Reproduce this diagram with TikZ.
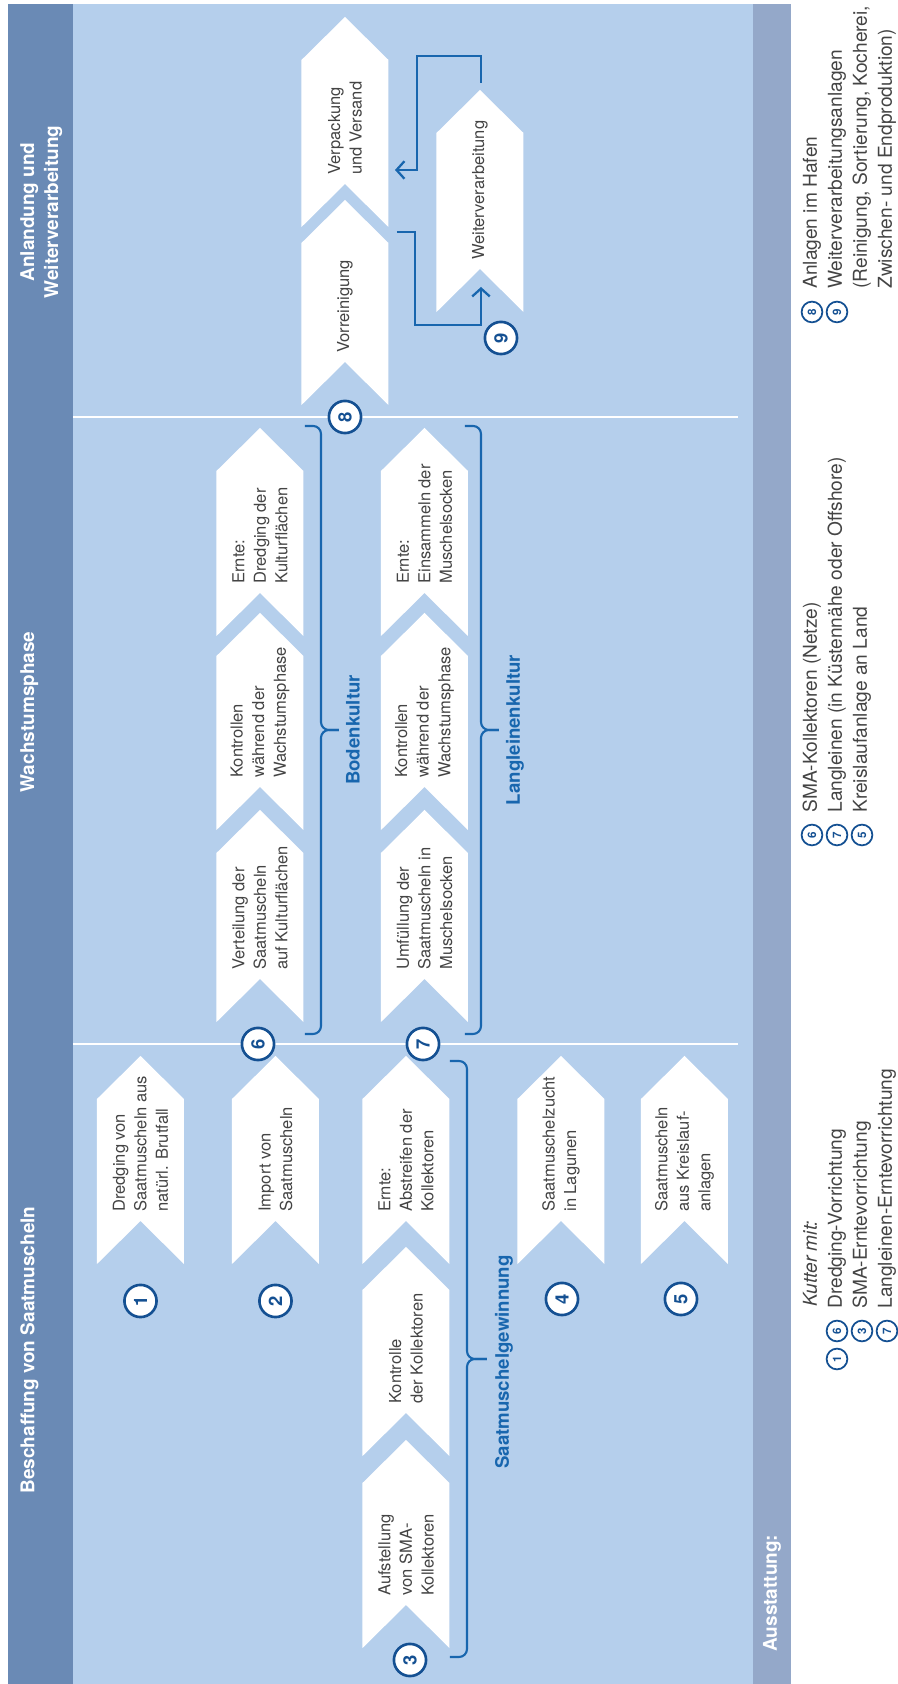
\documentclass[tikz,border=0pt]{standalone}
\usepackage{fontspec}
\setmainfont{TeX Gyre Heros}
\usetikzlibrary{arrows.meta}

\definecolor{panel}{RGB}{181,207,236}
\definecolor{headbar}{RGB}{106,138,181}
\definecolor{footbar}{RGB}{148,168,201}
\definecolor{linkblue}{RGB}{24,102,174}
\definecolor{ringblue}{RGB}{20,80,146}
\definecolor{txtgray}{RGB}{68,68,68}

\tikzset{
	boxfill/.style={fill=white},
	boxtext/.style={font=\fontsize{9.4}{12.3}\selectfont, text=txtgray, align=left, inner sep=0pt},
	headtext/.style={font=\fontsize{10.8}{13.6}\selectfont\bfseries, text=white, align=center, inner sep=0pt},
	num/.style={circle, draw=ringblue, line width=1.5pt, fill=white, minimum size=18.3pt, inner sep=0pt, font=\fontsize{10.5}{10.5}\selectfont\bfseries, text=ringblue},
	smallnum/.style={circle, draw=ringblue, line width=1pt, fill=white, minimum size=11.8pt, inner sep=0pt, font=\fontsize{6.6}{6.6}\selectfont\bfseries, text=ringblue},
	grouplabel/.style={font=\fontsize{10.6}{12}\selectfont\bfseries, text=linkblue, inner sep=0pt},
	legtext/.style={font=\fontsize{10.9}{14.2}\selectfont, text=txtgray, inner sep=0pt, anchor=base west},
	flow/.style={draw=linkblue, line width=1.3pt, -{Straight Barb[length=4.5pt, width=10pt]}},
	brace/.style={draw=linkblue, line width=1.2pt, rounded corners=4.5pt},
	divider/.style={draw=white, line width=1.5pt}
}

\newcommand{\schritt}[5]{%
	\fill[boxfill] (#2,#4-43.5) -- (#2+43,#4) -- (#2,#4+43.5) -- (#3-43,#4+43.5)
		-- (#3,#4) -- (#3-43,#4-43.5) -- cycle;
	\node[boxtext, anchor=west] (#1) at (#2+52,#4) {#5};
}

\begin{document}
\begin{tikzpicture}[x=0.02cm, y=0.02cm, rotate=90, transform shape]
	\useasboundingbox (0,0) rectangle (1684,898);

	\fill[panel] (0,145) rectangle (1680,825);
	\fill[headbar] (0,825) rectangle (1680,890);
	\fill[footbar] (0,107) rectangle (1680,145);

	\draw[divider] (640,825) -- (640,160);
	\draw[divider] (1267,825) -- (1267,160);

	\node[headtext, anchor=north] (h1) at (334,878) {Beschaffung von Saatmuscheln};
	\node[headtext, anchor=north] (h2) at (972,878) {Wachstumsphase};
	\node[headtext, anchor=north] (h3) at (1472,878) {Anlandung und\\Weiterverarbeitung};
	\node[headtext, anchor=west] (h4) at (32,126) {Ausstattung:};

	\schritt{dredge}{420}{628}{757.5}{Dredging von\\Saatmuscheln aus\\natürl. Brutfall}
	\schritt{import}{420}{628}{622.5}{Import von\\Saatmuscheln}
	\schritt{aufst}{36}{244}{492}{Aufstellung\\von SMA-\\Kollektoren}
	\schritt{kontr}{228}{437}{492}{Kontrolle\\der Kollektoren}
	\schritt{abstr}{420}{628}{492}{Ernte:\\Abstreifen der\\Kollektoren}
	\schritt{lagune}{420}{628}{337}{Saatmuschelzucht\\in Lagunen}
	\schritt{kreis}{420}{628}{213.5}{Saatmuscheln\\aus Kreislauf-\\anlagen}

	\schritt{verteil}{662}{874}{638}{Verteilung der\\Saatmuscheln\\auf Kulturflächen}
	\schritt{kontrb}{854}{1071}{638}{Kontrollen\\während der\\Wachstumsphase}
	\schritt{ernteb}{1048}{1256}{638}{Ernte:\\Dredging der\\Kulturflächen}
	\schritt{umfuell}{662}{874}{473.5}{Umfüllung der\\Saatmuscheln in\\Muschelsocken}
	\schritt{kontrl}{854}{1071}{473.5}{Kontrollen\\während der\\Wachstumsphase}
	\schritt{erntel}{1048}{1256}{473.5}{Ernte:\\Einsammeln der\\Muschelsocken}

	\schritt{vor}{1279}{1484}{553}{Vorreinigung}
	\schritt{verpack}{1457}{1667}{553}{Verpackung\\und Versand}
	\schritt{weiter}{1372}{1594}{418}{Weiterverarbeitung}

	\draw[brace] (27,448) -- (27,431) -- (325,431) -- (325,411);
	\draw[brace] (623,448) -- (623,431) -- (325,431) -- (325,411);
	\draw[brace] (650,593) -- (650,577) -- (954,577) -- (954,559);
	\draw[brace] (1258,593) -- (1258,577) -- (954,577) -- (954,559);
	\draw[brace] (650,433) -- (650,417) -- (954,417) -- (954,399);
	\draw[brace] (1258,433) -- (1258,417) -- (954,417) -- (954,399);

	\node[grouplabel] (saat) at (322,394) {Saatmuschelgewinnung};
	\node[grouplabel] (boden) at (954,545) {Bodenkultur};
	\node[grouplabel] (lang) at (954,383) {Langleinenkultur};

	\coordinate (vor-out) at (1452,501);
	\coordinate (weiter-in) at (1397,417);
	\coordinate (weiter-out) at (1601,417);
	\coordinate (verpack-in) at (1514,503);
	\draw[flow] (vor-out) -- ++(0,-18) -- ++(-93,0) -- ++(0,-66) -- (weiter-in);
	\draw[flow] (weiter-out) -- ++(27,0) -- ++(0,64) -- ++(-114,0) -- (verpack-in);

	\node[num] (n1) at (383,757.5) {1};
	\node[num] (n2) at (383,622.5) {2};
	\node[num] (n3) at (24,488) {3};
	\node[num] (n4) at (385,336) {4};
	\node[num] (n5) at (385,217) {5};
	\node[num] (n6) at (640,640) {6};
	\node[num] (n7) at (640,475) {7};
	\node[num] (n8) at (1267,553) {8};
	\node[num] (n9) at (1346,397) {9};

	\node[legtext, font=\fontsize{10.9}{14.2}\selectfont\itshape] (kutter) at (377,81) {Kutter mit:};
	\node[smallnum] (k1) at (325,61) {1};
	\node[smallnum] (k6) at (353,61) {6};
	\node[smallnum] (k3) at (353,36) {3};
	\node[smallnum] (k7) at (353,11) {7};
	\node[legtext] (l1) at (375,56) {Dredging-Vorrichtung};
	\node[legtext] (l3) at (375,31) {SMA-Erntevorrichtung};
	\node[legtext] (l7) at (375,6) {Langleinen-Erntevorrichtung};

	\node[smallnum] (m6) at (849,86) {6};
	\node[smallnum] (m7) at (849,61) {7};
	\node[smallnum] (m5) at (849,36) {5};
	\node[legtext] (l6) at (871,81) {SMA-Kollektoren (Netze)};
	\node[legtext] (l7b) at (871,56) {Langleinen (in Küstennähe oder Offshore)};
	\node[legtext] (l5) at (871,31) {Kreislaufanlage an Land};

	\node[smallnum] (m8) at (1372,86) {8};
	\node[smallnum] (m9) at (1372,61) {9};
	\node[legtext] (l8) at (1395,81) {Anlagen im Hafen};
	\node[legtext] (l9) at (1395,56) {Weiterverarbeitungsanlagen};
	\node[legtext] (l9b) at (1395,31) {(Reinigung, Sortierung, Kocherei,};
	\node[legtext] (l9c) at (1395,6) {Zwischen- und Endproduktion)};
\end{tikzpicture}
\end{document}
